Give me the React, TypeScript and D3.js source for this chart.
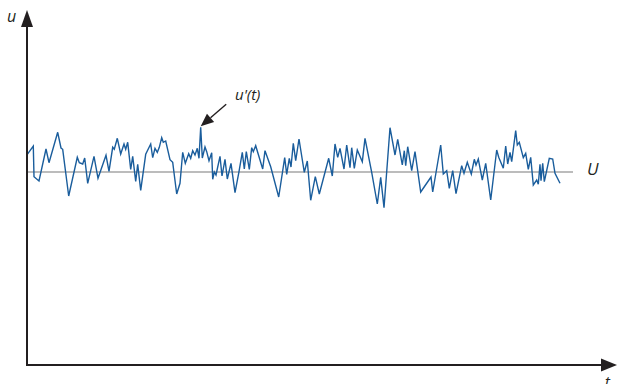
import React from "react";
import * as d3 from "d3";

// time (arbitrary units) and fluctuating velocity relative to the mean U
const tVals = [0.3,6.3,7,12,19,22,30.7,34,35.7,41.7,50.3,52.3,55.7,57.7,60.7,67,71,79,82,85.7,87.3,90.3,93.7,97,98.7,100.7,103.7,105.7,108.7,110.7,113.7,118.7,123.7,125.7,128,130.3,132.3,134.7,136.3,138.7,143,145.7,149.7,153,155.7,158.3,161.7,163.7,165.7,168,170.3,172,173.7,175.3,178,179.7,182,184.7,185.7,187.3,189,193,195,198,200.3,204,208,212,215.3,217.3,219.3,222.3,224.7,226.3,228.7,235.7,238,243.7,251.7,257.7,259.7,262.3,264,266.3,268.7,272,277.3,280.3,283.7,288.3,292.3,301.7,305.3,308,310.7,313,317,319.7,323,324.7,327.3,330.3,335.3,338,344.7,350.3,353.7,357,363,368,370.7,375.3,377.3,378.7,380.7,384.7,388,393.7,404,405.7,413.7,416.3,419.7,422.3,425.7,429,434.7,437,440.3,444.3,447.3,449,451.3,455.3,458.7,463.7,469.7,471.7,476.3,478.7,480.7,483,484.7,488.7,490.3,492.3,496.3,498.7,501.3,503.7,506.3,509.7,511.3,513,514,515.7,517.3,522.3,525.7,528,533];
const uVals = [17.7,26,-4.7,-9,23,9.3,39.7,24,22.7,-24,14.7,9.3,8,14,-11.3,15.7,-6.3,16.7,0.7,24.7,22.7,33.7,18,28,22.7,29.7,2.7,15.7,-9.3,7.7,-18.3,17.7,28,14.3,23.7,19.7,24.7,34.3,29.7,31,12.3,9.7,-22,-11.3,19.7,8.7,18.3,13.7,21.3,17,23.7,13.7,44.7,14,25,20.3,11.3,19.3,-7.3,0,-3,15.7,-4,12.7,-7,8.7,-20.7,0.3,19.7,3,20.3,2.7,24.3,20.3,26.3,3,21.3,5.3,-25,14.3,-2.3,13.7,5,28.7,11.3,33,-0.3,11,-28.3,-4.7,-22,13.7,-4,28,14.7,23.7,3,27,4.3,24.3,3.7,22,10.3,33.7,-0.3,-32,-5.3,-35.7,44.3,17,32.7,7,21.3,6.3,25.3,1.3,20.3,-20,-5,-20,27,-2,1.3,-16.3,1.3,-21.7,6.3,-1.3,9.7,-2,12.7,7,13,-8,8.7,-28,22,14.7,3.7,26,8,19.7,10.3,41.3,27,29.7,14.3,18.7,2.7,14.7,-13,-8,-12.3,7.7,-8.7,8.7,-9.7,13.7,13,-1.3,-11.3];
const meanU = 0;
const meanEnd = 546;
const peakIndex = 52;

export default function App() {
  const W = 618, H = 384;
  const x = d3.scaleLinear().domain([0, 590]).range([27, 617]);
  const y = d3.scaleLinear().domain([-193, 162]).range([365, 10]);
  const pts: [number, number][] = tVals.map((t, i) => [t, uVals[i]]);
  const line = d3.line<[number, number]>().x(d => x(d[0])).y(d => y(d[1]));

  const x0 = x(0), y0 = y(-193);
  const axisColor = "#231f20";
  const font = "'Open Sans', 'DejaVu Sans', sans-serif";

  // annotation arrow to peak
  const px = x(tVals[peakIndex]), py = y(uVals[peakIndex]) - 1;
  const sx = px + 25.5, sy = py - 22;
  const ang = Math.atan2(py - sy, px - sx);
  const hl = 13, hw = 5.5;
  const bx = px - hl * Math.cos(ang), by = py - hl * Math.sin(ang);
  const nx = -Math.sin(ang), ny = Math.cos(ang);

  return (
    <svg width={W} height={H} style={{ position: "fixed", left: 0, top: 0 }} xmlns="http://www.w3.org/2000/svg">
      <rect width={W} height={H} fill="#fff" />
      {/* mean line */}
      <line x1={x(0) + 1} x2={x(meanEnd)} y1={y(meanU)} y2={y(meanU)} stroke="#a6a6a6" strokeWidth={1.6} />
      {/* signal */}
      <path d={line(pts) || ""} fill="none" stroke="#1a5d9c" strokeWidth={1.4} strokeLinejoin="miter" />
      {/* axes */}
      <line x1={x0} x2={x0} y1={y0 + 1} y2={26} stroke={axisColor} strokeWidth={2} />
      <polygon points={`${x0},10 ${x0 - 6},27 ${x0 + 6},27`} fill={axisColor} />
      <line x1={x0 - 1} x2={602} y1={y0} y2={y0} stroke={axisColor} strokeWidth={2} />
      <polygon points={`617,${y0} 601,${y0 - 6.5} 601,${y0 + 6.5}`} fill={axisColor} />
      {/* annotation arrow */}
      <line x1={sx} y1={sy} x2={bx} y2={by} stroke={axisColor} strokeWidth={1.4} />
      <polygon points={`${px},${py} ${bx + nx * hw},${by + ny * hw} ${bx - nx * hw},${by - ny * hw}`} fill={axisColor} />
      {/* labels */}
      <text x={7} y={22} fontFamily={font} fontStyle="italic" fontSize={16} fill={axisColor}>u</text>
      <text x={235} y={100} fontFamily={font} fontStyle="italic" fontSize={15} fill={axisColor}>u'(t)</text>
      <text x={587} y={175} fontFamily={font} fontStyle="italic" fontSize={17} fill={axisColor}>U</text>
      <text x={605} y={387} fontFamily={font} fontStyle="italic" fontSize={15} fill={axisColor}>t</text>
    </svg>
  );
}
